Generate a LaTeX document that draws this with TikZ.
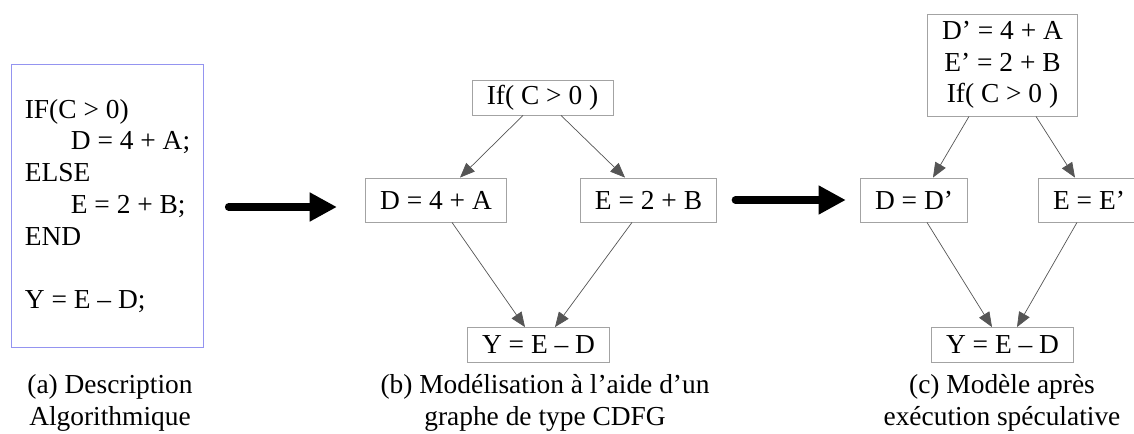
\documentclass[tikz,border=0pt]{standalone}
\usepackage{fontspec}
\setmainfont{Liberation Serif}
\usetikzlibrary{arrows.meta,calc,positioning}
\definecolor{BoxLine}{HTML}{A3A3A3}
\definecolor{CodeLine}{HTML}{9494F0}
\definecolor{EdgeGray}{HTML}{555555}
\tikzset{
  txt/.style={font=\fontsize{19.5pt}{22.6pt}\selectfont},
  op/.style={
    txt, draw=BoxLine, line width=0.6pt, inner xsep=0.37cm, inner ysep=0pt,
    minimum height=0.875cm, align=center
  },
  optall/.style={op, minimum height=1.1cm},
  codebox/.style={
    txt, draw=CodeLine, line width=0.7pt, inner xsep=0.25cm,
    minimum width=4.775cm, minimum height=7.05cm, align=left
  },
  caption/.style={txt, align=center, inner sep=0pt},
  edge/.style={-{Triangle[length=0.37cm,width=0.3cm]}, draw=EdgeGray, line width=0.5pt},
  bigarrow/.style={-{Triangle[length=0.68cm,width=0.68cm]}, line width=0.18cm, line cap=round}
}

\begin{document}
\begin{tikzpicture}[x=0.025cm,y=-0.025cm]
    \useasboundingbox (0,0) rectangle (1134,434);
    % (a) description algorithmique
    \node[codebox] (code) at (107.5,206) {IF(C > 0)\\
      \hspace*{1.15cm}D = 4 + A;\\
      ELSE\\
      \hspace*{1.15cm}E = 2 + B;\\
      END\\
      \mbox{}\\
      Y = E – D;};
    \node[caption] (capa) at (110,403) {(a) Description\\Algorithmique};
    % (b) graphe CDFG
    \node[op] (ifb) at (542.5,97.5) {If( C > 0 )};
    \node[optall] (db) at (436,200) {D = 4 + A};
    \node[optall] (eb) at (648.5,200) {E = 2 + B};
    \node[op] (yb) at (538.5,345) {Y = E – D};
    \node[caption] (capb) at (545,403) {(b) Modélisation à l’aide d’un\\graphe de type CDFG};
    \draw[edge] ($(ifb.south)+(-19.5,0)$) -- ($(db.north)+(24,0)$);
    \draw[edge] ($(ifb.south)+(18.5,0)$) -- ($(eb.north)+(-23.5,0)$);
    \draw[edge] ($(db.south)+(16,0)$) -- ($(yb.north)+(-13.5,0)$);
    \draw[edge] ($(eb.south)+(-16.5,0)$) -- ($(yb.north)+(16.5,0)$);
    % (c) apres execution speculative
    \node[op, minimum height=2.55cm] (topc) at (1002.5,65) {D’ = 4 + A\\E’ = 2 + B\\If( C > 0 )};
    \node[optall] (dc) at (914,200) {D = D’};
    \node[optall] (ec) at (1089,200) {E = E’};
    \node[op] (yc) at (1002.5,345) {Y = E – D};
    \node[caption] (capc) at (1002,403) {(c) Modèle après\\exécution spéculative};
    \draw[edge] ($(topc.south)+(-33.5,0)$) -- ($(dc.north)+(19,0)$);
    \draw[edge] ($(topc.south)+(33.5,0)$) -- ($(ec.north)+(-14,0)$);
    \draw[edge] ($(dc.south)+(13,0)$) -- ($(yc.north)+(-10.5,0)$);
    \draw[edge] ($(ec.south)+(-12,0)$) -- ($(yc.north)+(14.5,0)$);
    % transformations
    \coordinate (a1s) at ($(code.east)+(25,1)$);
    \coordinate (a1e) at ($(db.west)+(-28,7)$);
    \draw[bigarrow] (a1s) -- (a1e);
    \draw[bigarrow] ($(eb.east)+(18,0)$) -- ($(dc.west)+(-14,0)$);
  \end{tikzpicture}
\end{document}
